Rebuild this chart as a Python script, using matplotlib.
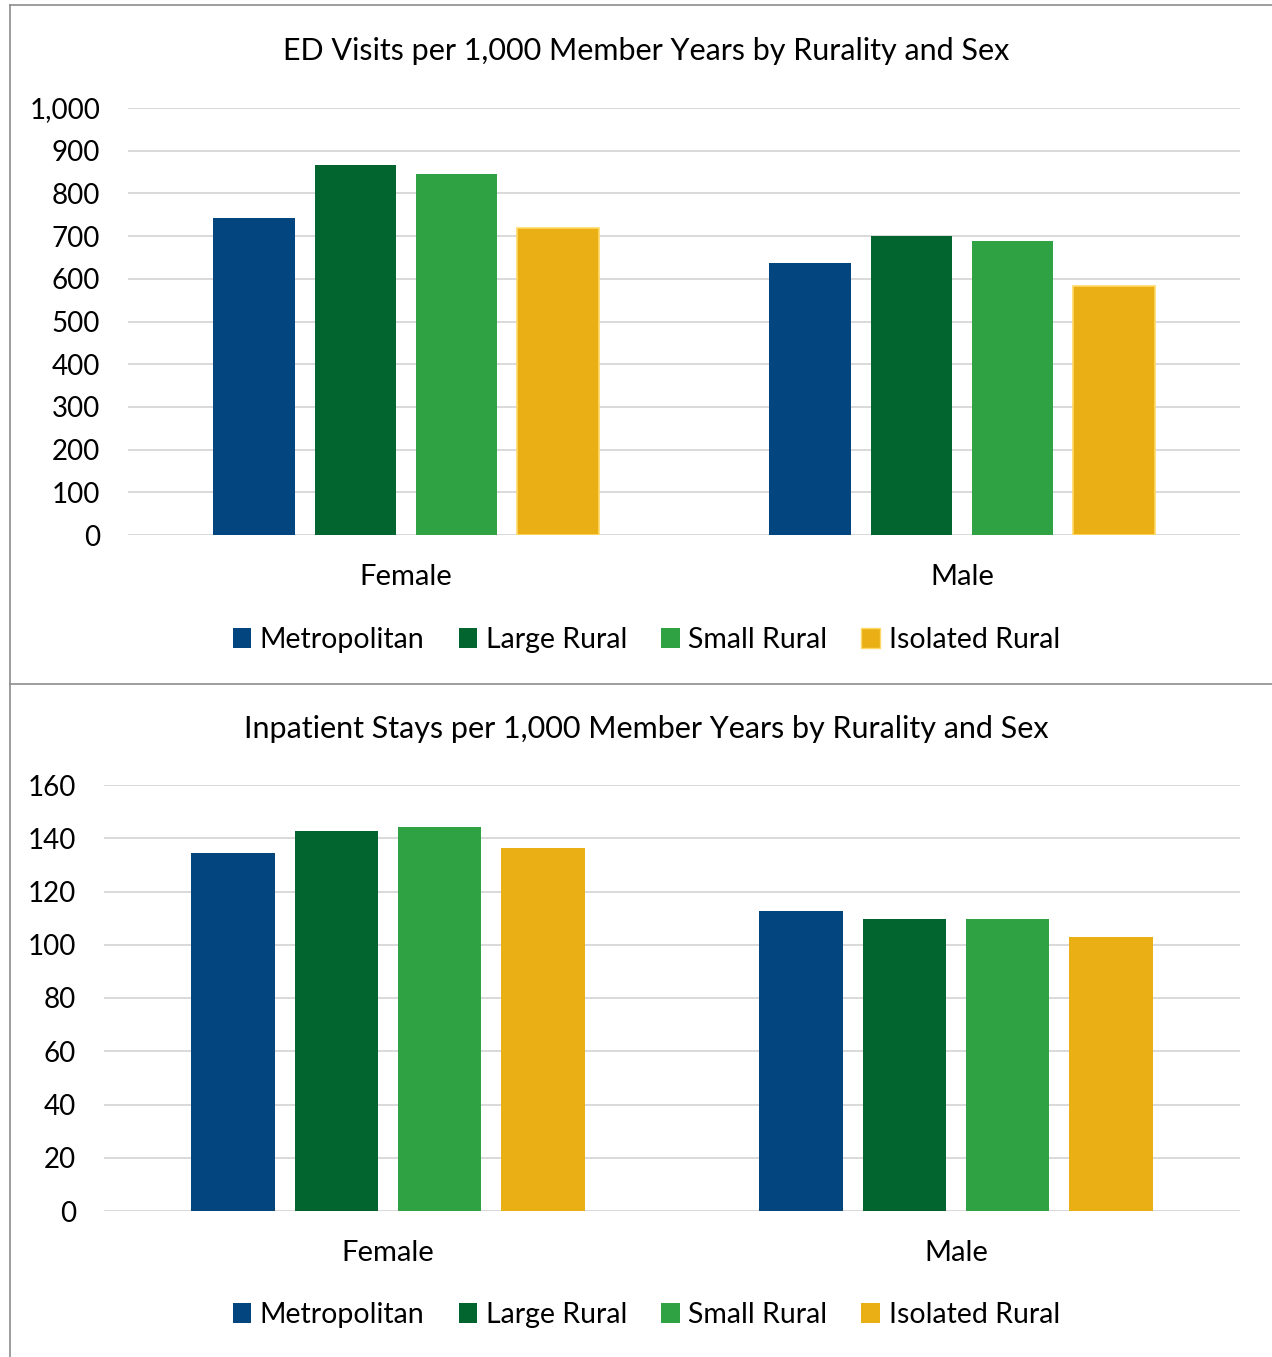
import numpy as np
import matplotlib.pyplot as plt
from matplotlib.lines import Line2D
from matplotlib.patches import Patch

plt.rcParams["font.family"] = ["Lato", "DejaVu Sans"]

# Data
sexes = ["Female", "Male"]
groups = ["Metropolitan", "Large Rural", "Small Rural", "Isolated Rural"]
colors = ["#03467F", "#02652F", "#2FA344", "#E9AF14"]

ed_visits = {
    "Metropolitan": [742, 637],
    "Large Rural": [866, 700],
    "Small Rural": [845, 688],
    "Isolated Rural": [719, 583],
}
inpatient = {
    "Metropolitan": [134.5, 112.7],
    "Large Rural": [142.7, 109.5],
    "Small Rural": [144.2, 109.5],
    "Isolated Rural": [136.3, 103.0],
}

ed_ticks = np.arange(0, 1001, 100)
ip_ticks = np.arange(0, 161, 20)

W, H = 1272, 1357
fig = plt.figure(figsize=(W / 100, H / 100), dpi=100)


def draw_panel(rect, data, ticks, title, title_y, legend_y, edge_iso):
    ax = fig.add_axes(rect)
    x = np.arange(len(sexes))
    pitch = 0.182
    width = 0.147
    for i, g in enumerate(groups):
        ec = "#FFD966" if (edge_iso and g == "Isolated Rural") else "none"
        ax.bar(x + (i - 1.5) * pitch, data[g], width, color=colors[i],
               edgecolor=ec, linewidth=1.2, zorder=3)
    ax.set_xlim(-0.5, 1.5)
    ax.set_ylim(ticks[0], ticks[-1])
    ax.set_yticks(ticks)
    ax.set_yticklabels([f"{t:,}" for t in ticks])
    ax.set_xticks(x)
    ax.set_xticklabels(sexes)
    ax.grid(axis="y", color="#D9D9D9", linewidth=1.4, zorder=0)
    ax.set_axisbelow(True)
    for s in ax.spines.values():
        s.set_visible(False)
    ax.tick_params(axis="y", length=0, labelsize=20, colors="black", pad=20)
    ax.tick_params(axis="x", length=0, labelsize=21, colors="black", pad=21)
    fig.text(0.508, title_y, title, ha="center", va="center", fontsize=22)
    handles = [Patch(facecolor=c, edgecolor=("#FFD966" if (edge_iso and g == "Isolated Rural") else "none"))
               for g, c in zip(groups, colors)]
    fig.legend(handles, groups, loc="center", bbox_to_anchor=(0.508, legend_y),
               ncol=4, frameon=False, fontsize=20.5, handlelength=0.65,
               handleheight=0.65, handletextpad=0.3, columnspacing=1.2)
    return ax


draw_panel([128 / W, 1 - 535 / H, 1112 / W, 427 / H], ed_visits, ed_ticks,
           "ED Visits per 1,000 Member Years by Rurality and Sex",
           1 - 51 / H, 1 - 640 / H, True)
draw_panel([104 / W, 1 - 1211 / H, 1136 / W, 426 / H], inpatient, ip_ticks,
           "Inpatient Stays per 1,000 Member Years by Rurality and Sex",
           1 - 729 / H, 1 - 1315 / H, False)

# panel frames
fc = "#8C8C8C"
lx = 10 / W
fig.add_artist(Line2D([lx, 1], [1 - 5 / H, 1 - 5 / H], color=fc, linewidth=1.2))
fig.add_artist(Line2D([lx, lx], [0, 1 - 5 / H], color=fc, linewidth=1.2))
fig.add_artist(Line2D([lx, 1], [1 - 684 / H, 1 - 684 / H], color=fc, linewidth=1.2))

fig.savefig("out.png", dpi=100)
